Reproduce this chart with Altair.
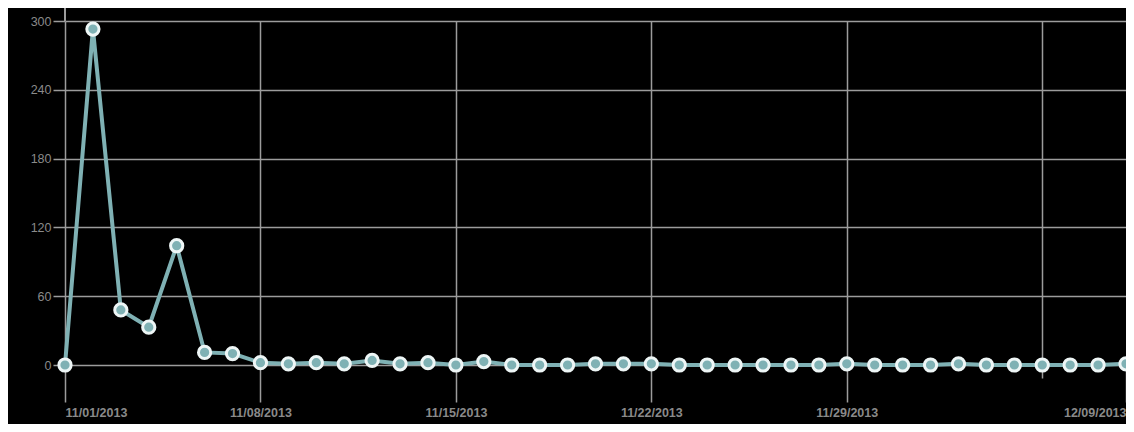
import altair as alt
import pandas as pd

dates = pd.date_range("2013-11-01", "2013-12-09", freq="D").strftime("%Y-%m-%d").tolist()
values = [0, 293, 48, 33, 104, 11, 10, 2, 1, 2, 1, 4, 1, 2, 0, 3, 0, 0, 0, 1, 1, 1,
          0, 0, 0, 0, 0, 0, 1, 0, 0, 0, 1, 0, 0, 0, 0, 0, 1]
y_ticks = [0, 60, 120, 180, 240, 300]
x_tick_dates = ["2013-11-01", "2013-11-08", "2013-11-15", "2013-11-22", "2013-11-29",
                "2013-12-06", "2013-12-09"]

df = pd.DataFrame({"date": dates, "value": values})

def ms(d):
    return int(pd.Timestamp(d, tz="UTC").value // 10**6)

x_vals = [ms(d) for d in x_tick_dates]
is_hidden = "utcFormat(datum.value, '%Y-%m-%d') == '2013-12-06'"
is_last = "utcFormat(datum.value, '%Y-%m-%d') == '2013-12-09'"

GRID = "#9c9c9c"
LABEL = "#8a8a8a"
LINE = "#7fb1b4"

x_enc = alt.X(
    "date:T",
    scale=alt.Scale(type="utc", domain=[ms("2013-11-01"), ms("2013-12-09")], nice=False),
    axis=alt.Axis(
        values=x_vals,
        title=None,
        domain=False,
        grid=True,
        gridColor=GRID,
        gridWidth=1.5,
        gridOpacity={"condition": {"test": is_last, "value": 0}, "value": 1},
        tickColor=GRID,
        tickWidth=1.5,
        tickSize={"condition": {"test": is_hidden, "value": 13}, "value": 37},
        labelExpr=f"{is_hidden} ? '' : utcFormat(datum.value, '%m/%d/%Y')",
        labelFlush=True,
        labelOverlap=False,
        labelFont="Liberation Sans",
        labelFontWeight="bold",
        labelFontSize=12.5,
        labelColor=LABEL,
        labelPadding=4,
    ),
)

y_enc = alt.Y(
    "value:Q",
    scale=alt.Scale(domain=[0, 300], nice=False),
    axis=alt.Axis(
        values=y_ticks,
        title=None,
        domain=False,
        grid=True,
        gridColor=GRID,
        gridWidth=1.5,
        tickColor=GRID,
        tickWidth=1.5,
        tickSize=12,
        labelOverlap=False,
        labelFont="Liberation Sans",
        labelFontSize=12.5,
        labelColor=LABEL,
        labelPadding=2,
    ),
)

base = alt.Chart(df)
line = base.mark_line(color=LINE, strokeWidth=4, clip=False).encode(x=x_enc, y=y_enc)
pts = base.mark_point(
    filled=True, fill=LINE, stroke="#eef6f6", strokeWidth=3, size=150, opacity=1, clip=False
).encode(x="date:T", y="value:Q")

axis_top = alt.Chart(df).mark_rule(color=GRID, strokeWidth=1.5).encode(
    x=alt.value(0), y=alt.value(-13), y2=alt.value(0)
)

chart = (
    alt.layer(axis_top, line, pts)
    .properties(
        width=1061,
        height=344,
        background="black",
        padding={"left": 57, "top": 13, "right": 0, "bottom": 59},
        autosize=alt.AutoSizeParams(type="none"),
    )
    .configure_view(stroke=None, fill="black")
)

chart.save("out.html", embed_options={"renderer": "svg", "actions": False})
